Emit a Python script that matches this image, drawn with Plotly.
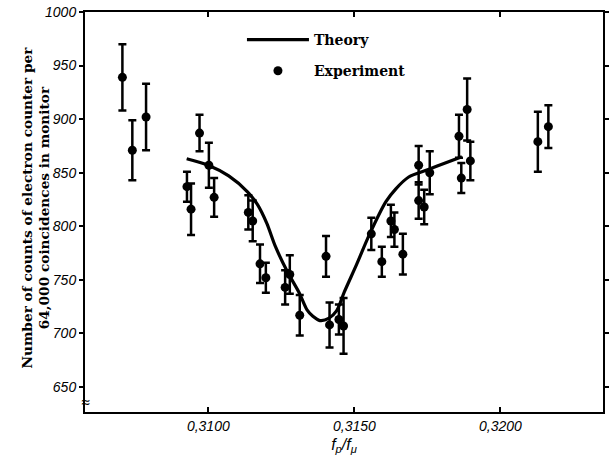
import plotly.graph_objects as go

# Experimental points: f_p/f_mu, counts, error
exp_x = [0.30706, 0.30740, 0.30787, 0.30927, 0.30941, 0.30970, 0.31002, 0.31020,
         0.31137, 0.31152, 0.31177, 0.31197, 0.31263, 0.31279, 0.31313, 0.31403,
         0.31415, 0.31447, 0.31463, 0.31558, 0.31594, 0.31625, 0.31637, 0.31666,
         0.31720, 0.31720, 0.31739, 0.31758, 0.31858, 0.31866, 0.31886, 0.31897,
         0.32128, 0.32164]
exp_y = [939, 871, 902, 837, 816, 887, 857, 827,
         813, 805, 765, 752, 743, 755, 717, 772,
         708, 713, 707, 793, 767, 805, 797, 774,
         857, 824, 818, 850, 884, 845, 909, 861,
         879, 893]
exp_err = [31, 28, 31, 14, 24, 17, 21, 18,
           16, 19, 18, 14, 16, 18, 19, 19,
           21, 14, 26, 15, 14, 15, 16, 19,
           18, 17, 16, 20, 20, 14, 29, 18,
           28, 20]

# Theory curve
th_x = [0.30926, 0.31000, 0.31070, 0.31135, 0.31169, 0.31200, 0.31230, 0.31270,
        0.31311, 0.31338, 0.31358, 0.31382, 0.31412, 0.31439, 0.31466, 0.31507,
        0.31551, 0.31608, 0.31642, 0.31686, 0.31753, 0.31811, 0.31868]
th_y = [863, 857, 847, 832, 820, 803, 781, 758,
        738, 722, 716, 712, 714, 721, 739, 764,
        792, 823, 835, 846, 853, 859, 865]

x_ticks = [0.3100, 0.3150, 0.3200]
x_tick_text = ["0,3100", "0,3150", "0,3200"]
y_ticks = [650, 700, 750, 800, 850, 900, 950, 1000]
y_tick_text = ["650", "700", "750", "800", "850", "900", "950", "1000"]

fig = go.Figure()
fig.add_trace(go.Scatter(
    x=th_x, y=th_y, mode="lines", name="<b>Theory</b>",
    line=dict(color="black", width=3.2, shape="spline", smoothing=0.8),
    legendgroup="a"))
fig.add_trace(go.Scatter(
    x=exp_x, y=exp_y, mode="markers", name="<b>Experiment</b>",
    marker=dict(color="black", size=9),
    error_y=dict(type="data", array=exp_err, color="black", thickness=2.5, width=4),
    legendgroup="b"))

tickfont = dict(family="Liberation Sans, Arial, sans-serif", size=14, color="black")
fig.update_layout(
    width=610, height=464,
    margin=dict(l=85, r=1, t=12, b=52),
    paper_bgcolor="white", plot_bgcolor="white",
    showlegend=True,
    legend=dict(x=0.303, y=0.97, xanchor="left", yanchor="top",
                bgcolor="rgba(0,0,0,0)", traceorder="grouped", tracegroupgap=10,
                itemwidth=62,
                font=dict(family="DejaVu Serif, Liberation Serif, serif", size=14, color="black")),
    xaxis=dict(range=[0.30578, 0.32351], tickvals=x_ticks,
               ticktext=["<i>" + t + "</i>" for t in x_tick_text],
               ticks="inside", ticklen=5, tickwidth=1.5, tickcolor="black",
               showline=True, linecolor="black", linewidth=2, mirror="ticks",
               showgrid=False, zeroline=False,
               tickfont=tickfont,
               title=dict(text="<i>f<sub>p</sub>/f<sub>μ</sub></i>", standoff=6,
                          font=dict(family="Liberation Sans, Arial, sans-serif", size=16, color="black"))),
    yaxis=dict(range=[626.7, 1000], tickvals=y_ticks,
               ticktext=["<i>" + t + "</i>" for t in y_tick_text],
               ticks="outside", ticklen=4, tickwidth=1.5, tickcolor="black",
               showline=True, linecolor="black", linewidth=2, mirror="ticks",
               showgrid=False, zeroline=False,
               tickfont=tickfont),
)
fig.add_annotation(xref="paper", yref="paper", x=-0.0954, y=0.51,
                   text="<b>Number of counts of electron counter per<br>64,000 coincidences in monitor</b>",
                   showarrow=False, textangle=-90, xanchor="center", yanchor="middle",
                   font=dict(family="DejaVu Serif, Liberation Serif, serif", size=13.7, color="black"))
fig.add_annotation(xref="paper", yref="y", x=0, y=636, text="≈", showarrow=False,
                   xanchor="center", yanchor="middle",
                   font=dict(size=16, color="black"))
fig.write_html("out.html")
